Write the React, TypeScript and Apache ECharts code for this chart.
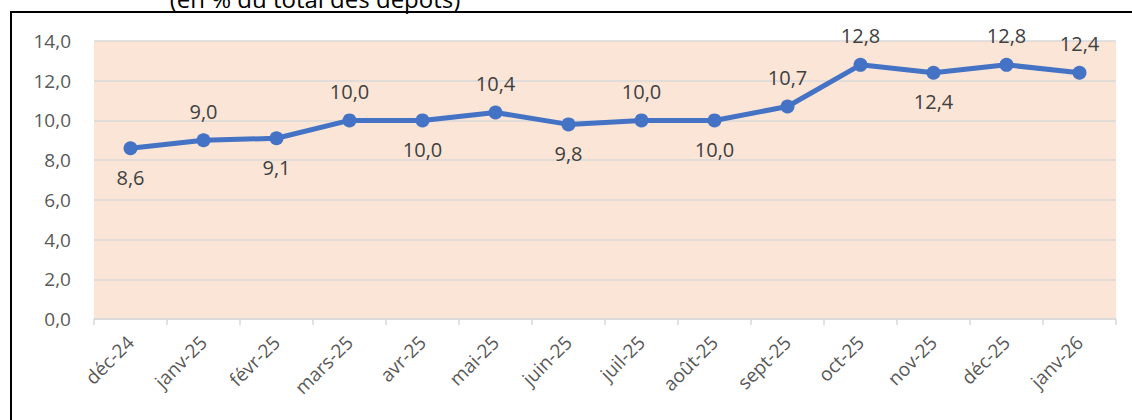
import React, { useEffect, useRef } from "react";
import * as echarts from "echarts";

const categories = ["déc-24", "janv-25", "févr-25", "mars-25", "avr-25", "mai-25", "juin-25", "juil-25", "août-25", "sept-25", "oct-25", "nov-25", "déc-25", "janv-26"];
const values = [8.6, 9.0, 9.1, 10.0, 10.0, 10.4, 9.8, 10.0, 10.0, 10.7, 12.8, 12.4, 12.8, 12.4];
const labelPositions = ["bottom", "top", "bottom", "top", "bottom", "top", "bottom", "top", "bottom", "top", "top", "bottom", "top", "top"];
const yTicks = { min: 0, max: 14, interval: 2 };
const subtitle = "(en % du total des dépôts)";

const FONT = "'Open Sans', sans-serif";

export default function App() {
  const ref = useRef<HTMLDivElement>(null);
  useEffect(() => {
    if (!ref.current) return;
    const chart = echarts.init(ref.current, undefined, { renderer: "svg" });
    chart.setOption({
      animation: false,
      backgroundColor: "#ffffff",
      grid: { left: 94, right: 16, top: 41, bottom: 101, show: true, backgroundColor: "#FBE5D6", borderWidth: 0 },
      xAxis: {
        type: "category",
        data: categories,
        boundaryGap: true,
        axisLine: { show: true, lineStyle: { color: "#D9D9D9", width: 1.5 } },
        axisTick: { show: true, length: 6, lineStyle: { color: "#D9D9D9", width: 1.5 } },
        axisLabel: { rotate: 45, margin: 20, fontSize: 19, color: "#595959", fontFamily: FONT },
      },
      yAxis: {
        type: "value",
        min: yTicks.min,
        max: yTicks.max,
        interval: yTicks.interval,
        axisLine: { show: false },
        axisTick: { show: false },
        axisLabel: {
          margin: 23,
          fontSize: 19,
          color: "#595959",
          fontFamily: FONT,
          formatter: (v: number) => v.toFixed(1).replace(".", ","),
        },
        splitLine: { lineStyle: { color: "#D9D9D9", width: 1.5 } },
      },
      series: [
        {
          type: "line",
          data: values.map((v, i) => ({
            value: v,
            label: { position: labelPositions[i] },
          })),
          symbol: "circle",
          symbolSize: 14,
          itemStyle: { color: "#4472C4" },
          lineStyle: { color: "#4472C4", width: 5 },
          label: {
            show: true,
            distance: 12,
            fontSize: 20,
            color: "#404040",
            fontFamily: FONT,
            formatter: (p: any) => Number(p.value).toFixed(1).replace(".", ","),
          },
        },
      ],
      graphic: [
        {
          type: "rect",
          shape: { x: 11, y: 12, width: 1140, height: 420 },
          style: { fill: "none", stroke: "#000000", lineWidth: 2 },
          z: 100,
        },
        {
          type: "text",
          x: 315,
          y: 10,
          style: {
            text: subtitle,
            fontSize: 24,
            fontFamily: FONT,
            fill: "#000000",
            textAlign: "center",
            textVerticalAlign: "bottom",
          },
          z: 100,
        },
      ],
    });
    return () => chart.dispose();
  }, []);
  return (
    <div style={{ position: "absolute", left: 0, top: 0, width: 1132, height: 420 }}>
      <div ref={ref} style={{ width: 1132, height: 420 }} />
    </div>
  );
}
